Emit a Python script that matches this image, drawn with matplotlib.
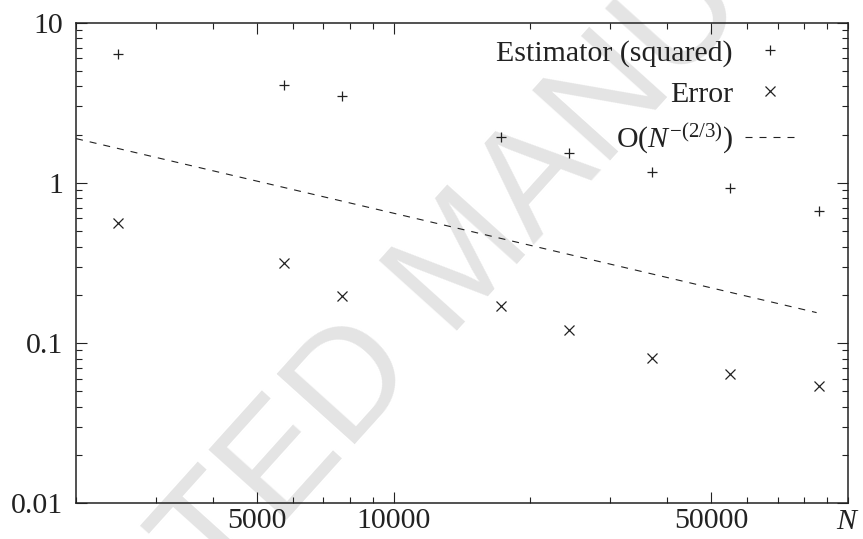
import matplotlib
matplotlib.use('Agg')
import matplotlib.pyplot as plt
from matplotlib.ticker import FixedLocator, FixedFormatter, LogLocator, NullFormatter

N_values = [2470, 5750, 7700, 17200, 24300, 37100, 55000, 86300]
estimator_sq = [6.38, 4.06, 3.48, 1.94, 1.53, 1.175, 0.933, 0.668]
error_values = [0.565, 0.315, 0.197, 0.171, 0.121, 0.081, 0.0638, 0.054]

# reference slope line O(N^-(2/3)), end points
ref_N = [2000, 85300]
ref_values = [1.89, 0.155]

x_ticks = [5000, 10000, 50000]
x_tick_labels = ['5000', '10000', '50000']
y_ticks = [0.01, 0.1, 1, 10]
y_tick_labels = ['0.01', '0.1', '1', '10']

plt.rcParams['font.family'] = ['Liberation Serif', 'DejaVu Serif']
plt.rcParams['mathtext.fontset'] = 'custom'
plt.rcParams['mathtext.rm'] = 'Liberation Serif'
plt.rcParams['mathtext.it'] = 'Liberation Serif:italic'
plt.rcParams['font.size'] = 21.5

ink = '#222222'

fig = plt.figure(figsize=(8.63, 5.39), dpi=100)
ax = fig.add_axes([0.0881, 0.0662, 0.8945, 0.8917])
ax.patch.set_visible(False)

# publisher watermark
ax.text(0.540, 0.512, 'ACCEPTED MANUSCRIPT', transform=fig.transFigure,
        family='Liberation Sans', fontsize=110, color='#e4e4e4',
        rotation=48, rotation_mode='anchor', ha='center', va='center',
        zorder=0, clip_on=False)

ax.plot(N_values, estimator_sq, linestyle='none', marker='+', markersize=7.5,
        mew=0.9, color=ink, label='Estimator (squared)', zorder=3)
ax.plot(N_values, error_values, linestyle='none', marker='x', markersize=7.5,
        mew=0.9, color=ink, label='Error', zorder=3)
ax.plot(ref_N, ref_values, linestyle=(0, (6.3, 6.3)), linewidth=0.8, color=ink,
        label='O($N^{-(2/3)}$)', zorder=3)

ax.set_xscale('log')
ax.set_yscale('log')
ax.set_xlim(2000, 100000)
ax.set_ylim(0.01, 10)

ax.xaxis.set_major_locator(FixedLocator(x_ticks))
ax.xaxis.set_major_formatter(FixedFormatter(x_tick_labels))
ax.xaxis.set_minor_locator(LogLocator(base=10, subs=range(1, 10)))
ax.xaxis.set_minor_formatter(NullFormatter())
ax.yaxis.set_major_locator(FixedLocator(y_ticks))
ax.yaxis.set_major_formatter(FixedFormatter(y_tick_labels))
ax.yaxis.set_minor_locator(LogLocator(base=10, subs=range(2, 10)))
ax.yaxis.set_minor_formatter(NullFormatter())

ax.tick_params(which='both', direction='in', top=True, right=True,
               color=ink, labelcolor=ink, width=0.8)
ax.tick_params(which='major', length=8)
ax.tick_params(which='minor', length=4)
ax.tick_params(axis='y', which='major', pad=9.5)
ax.tick_params(axis='x', which='major', pad=3.5)
for s in ax.spines.values():
    s.set_linewidth(1.1)
    s.set_color(ink)

ax.set_xlabel('$N$', color=ink)
ax.xaxis.set_label_coords(1.0, -0.012)
ax.xaxis.label.set_va('top')

leg = ax.legend(loc='upper right', bbox_to_anchor=(0.931, 0.965),
                frameon=False, markerfirst=False, handlelength=1.67,
                handletextpad=0.4, labelspacing=0.47, borderpad=0,
                borderaxespad=0)
for t in leg.get_texts():
    t.set_color(ink)

fig.savefig('out.png', dpi=100)
